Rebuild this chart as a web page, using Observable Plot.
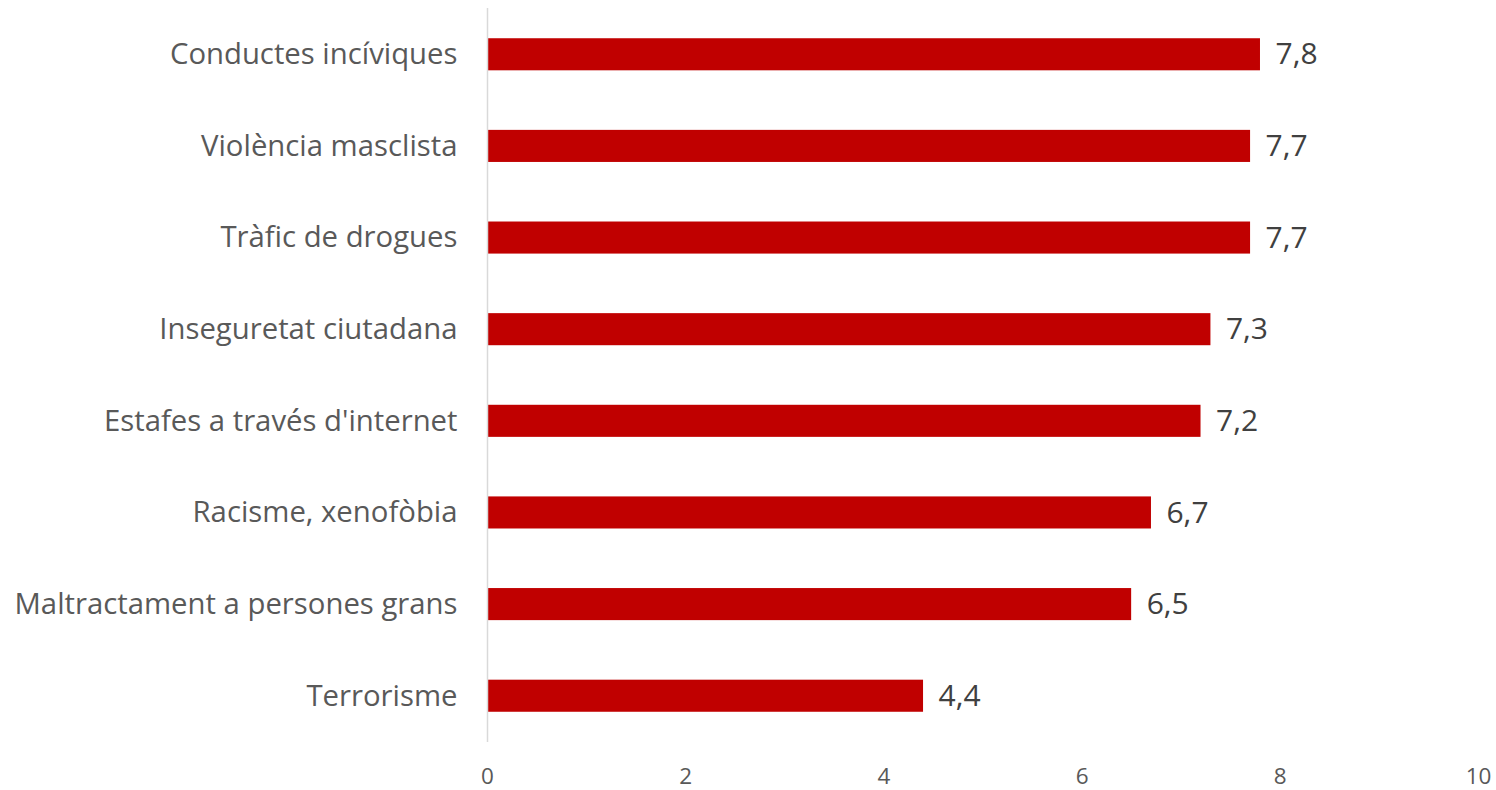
<!DOCTYPE html>
<html>
<head>
<meta charset="utf-8">
<script src="https://cdn.jsdelivr.net/npm/d3@7"></script>
<script src="https://cdn.jsdelivr.net/npm/@observablehq/plot@0.6"></script>
<style>
  html, body { margin: 0; padding: 0; background: #fff; }
  #chart { width: 1496px; height: 790px; }
</style>
</head>
<body>
<div id="chart"></div>
<script>
const categories = [
  "Conductes incíviques",
  "Violència masclista",
  "Tràfic de drogues",
  "Inseguretat ciutadana",
  "Estafes a través d'internet",
  "Racisme, xenofòbia",
  "Maltractament a persones grans",
  "Terrorisme"
];
const values = [7.8, 7.7, 7.7, 7.3, 7.2, 6.7, 6.5, 4.4];
const xTicks = [0, 2, 4, 6, 8, 10];

const data = categories.map((c, i) => ({category: c, value: values[i]}));
const fmt = v => v.toFixed(1).replace(".", ",");

const chart = Plot.plot({
  width: 1496,
  height: 790,
  marginLeft: 487,
  marginRight: 18,
  marginTop: 8,
  marginBottom: 48,
  style: {fontFamily: "'Open Sans', sans-serif", background: "#fff"},
  x: {domain: [0, 10], ticks: xTicks, label: null},
  y: {domain: categories, paddingInner: 0.65, paddingOuter: 0.33, round: false, label: null},
  marks: [
    Plot.barX(data, {x: "value", y: "category", fill: "#C00000"}),
    Plot.ruleX([0], {stroke: "#d9d9d9", strokeWidth: 1.5}),
    Plot.text(data, {x: "value", y: "category", text: d => fmt(d.value), textAnchor: "start", dx: 15, fontSize: 30, fill: "#404040"}),
    Plot.axisX({ticks: xTicks, tickSize: 0, tickPadding: 26, fontSize: 22.5, color: "#595959", tickFormat: d => String(d), label: null}),
    Plot.axisY({tickSize: 0, tickPadding: 30, fontSize: 29.3, color: "#595959", label: null})
  ]
});
document.getElementById("chart").appendChild(chart);
</script>
</body>
</html>
